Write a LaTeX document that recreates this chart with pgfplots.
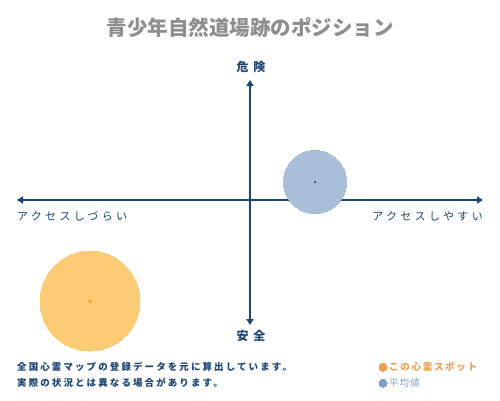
\documentclass[border=0pt]{standalone}
\usepackage{pgfplots}
\pgfplotsset{compat=1.18}
\usepackage{fontspec}
\setmainfont{Noto Sans CJK JP}
\usetikzlibrary{arrows.meta}
\definecolor{navy}{HTML}{1C4672}
\definecolor{titlegray}{HTML}{8E8E8E}
\definecolor{orangefill}{HTML}{FCCB76}
\definecolor{orangedot}{HTML}{F0A030}
\definecolor{bluefill}{HTML}{A9BFD8}
\definecolor{legorange}{HTML}{EDA050}
\definecolor{legblue}{HTML}{7FA0C4}
\newcommand{\lsp}[1]{\addfontfeatures{LetterSpace=#1}}
\pgfplotsset{dot/.style={color=#1, only marks, mark=*, mark options={draw=#1, fill=#1, line width=0pt}}}
\begin{document}
\begin{tikzpicture}
\begin{axis}[
    scale only axis,
    width=500pt, height=400pt,
    xmin=0, xmax=500, ymin=0, ymax=400,
    y dir=reverse,
    hide axis,
    clip=false,
]
\fill[white] (axis cs:0,0) rectangle (axis cs:500,400);

% bubbles
\addplot[dot=orangefill, mark size=50pt] coordinates {(90,301)};
\addplot[dot=orangedot, mark size=1.3pt] coordinates {(90,301)};
\addplot[dot=bluefill, mark size=31.5pt] coordinates {(315,182)};
\addplot[dot=navy, mark size=0.7pt] coordinates {(315,182)};

% cross axes
\addplot[navy, line width=1.5pt, {Triangle[length=6pt,width=7pt]}-{Triangle[length=6pt,width=7pt]}]
    coordinates {(17,200) (483,200)};
\addplot[navy, line width=1.5pt, {Triangle[length=6pt,width=7pt]}-{Triangle[length=6pt,width=7pt]}]
    coordinates {(250,80) (250,325)};

% labels
\node[text=titlegray, font=\fontsize{20.5}{24}\selectfont\bfseries] at (axis cs:250,28) {青少年自然道場跡のポジション};
\node[text=navy, font=\fontsize{12}{14}\selectfont\bfseries\lsp{40}] at (axis cs:251,67) {危険};
\node[text=navy, font=\fontsize{12}{14}\selectfont\bfseries\lsp{40}] at (axis cs:251,336) {安全};
\node[text=navy, anchor=west, inner sep=0pt, font=\fontsize{11}{13}\selectfont\lsp{30}] at (axis cs:17,216) {アクセスしづらい};
\node[text=navy, anchor=east, inner sep=0pt, font=\fontsize{11}{13}\selectfont\lsp{30}] at (axis cs:483,216) {アクセスしやすい};

% footer
\node[text=navy, anchor=west, inner sep=0pt, font=\fontsize{9.5}{11}\selectfont\bfseries\lsp{22}] at (axis cs:17,367) {全国心霊マップの登録データを元に算出しています。};
\node[text=navy, anchor=west, inner sep=0pt, font=\fontsize{9.5}{11}\selectfont\bfseries\lsp{22}] at (axis cs:17,383) {実際の状況とは異なる場合があります。};

% legend
\addplot[dot=legorange, mark size=4pt] coordinates {(383,367)};
\addplot[dot=legblue, mark size=4pt] coordinates {(383,383)};
\node[text=legorange, anchor=west, inner sep=0pt, font=\fontsize{9.5}{11}\selectfont\bfseries\lsp{18}] at (axis cs:389,367) {この心霊スポット};
\node[text=legblue, anchor=west, inner sep=0pt, font=\fontsize{9.5}{11}\selectfont\lsp{10}] at (axis cs:389,383) {平均値};
\end{axis}
\end{tikzpicture}
\end{document}
